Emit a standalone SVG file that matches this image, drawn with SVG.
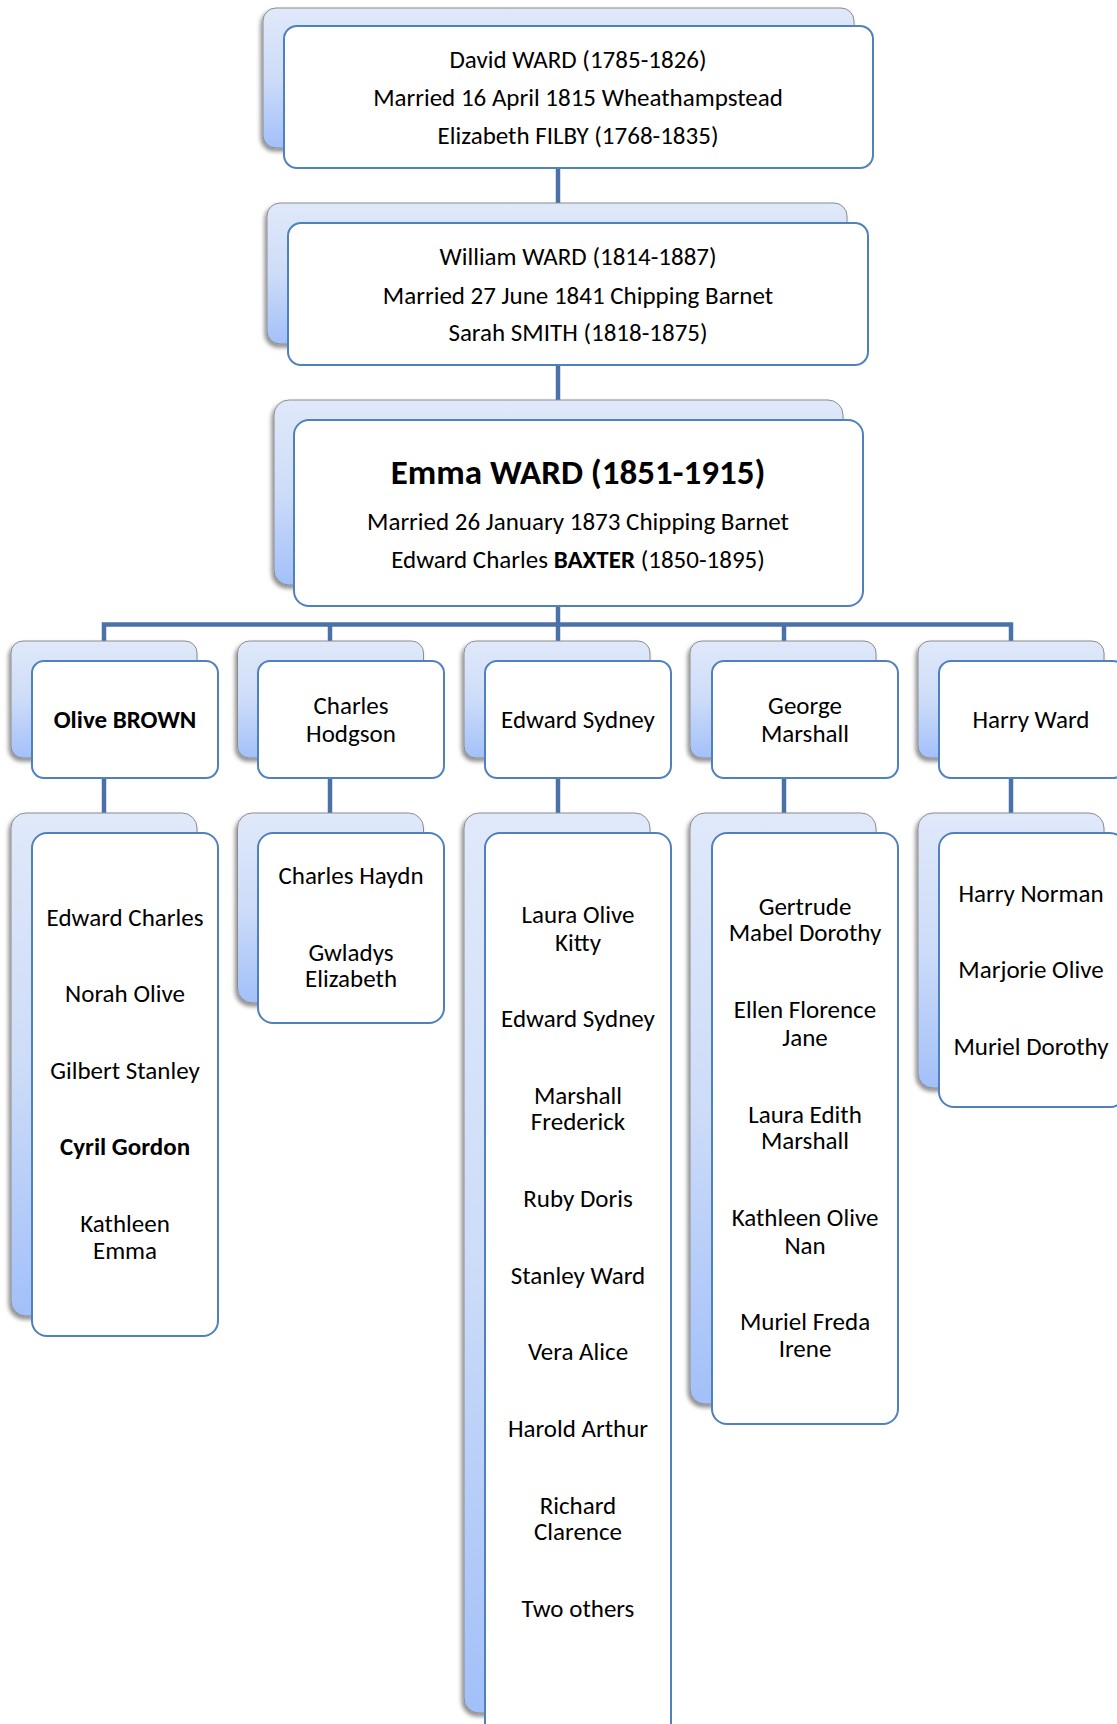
<svg xmlns="http://www.w3.org/2000/svg" width="1117" height="1724" viewBox="0 0 1117 1724">
<defs>
<linearGradient id="bg" x1="0" y1="0" x2="0" y2="1">
<stop offset="0" stop-color="#e0e9fa"/>
<stop offset="0.5" stop-color="#cddcf8"/>
<stop offset="1" stop-color="#a2c0f9"/>
</linearGradient>
<filter id="sh" x="-10%" y="-10%" width="120%" height="120%">
<feDropShadow dx="-2" dy="3" stdDeviation="2" flood-color="#000" flood-opacity="0.45"/>
</filter>
</defs>
<style>
.back{fill:url(#bg);stroke:#8c8c8c;stroke-width:1;filter:url(#sh)}
.front{fill:#fff;stroke:#4f81bd;stroke-width:2}
text{font-family:Carlito,Lato,"Liberation Sans",sans-serif;font-size:25px;fill:#000;text-anchor:middle}
.b{font-weight:bold}
.big{font-size:35px;font-weight:bold}
.con{stroke:#4a72a8;stroke-width:4.5;fill:none}
</style>
<rect width="1117" height="1724" fill="#fff"/>
<g id="connectors">
<line class="con" x1="558" y1="168" x2="558" y2="203"/>
<line class="con" x1="558" y1="365" x2="558" y2="400"/>
<line class="con" x1="558" y1="605" x2="558" y2="641"/>
<polyline class="con" points="104,641 104,624.5 1011,624.5 1011,641"/>
<line class="con" x1="330" y1="624.5" x2="330" y2="641"/>
<line class="con" x1="784" y1="624.5" x2="784" y2="641"/>
<line class="con" x1="104" y1="778" x2="104" y2="813"/>
<line class="con" x1="330" y1="778" x2="330" y2="813"/>
<line class="con" x1="558" y1="778" x2="558" y2="813"/>
<line class="con" x1="784" y1="778" x2="784" y2="813"/>
<line class="con" x1="1011" y1="778" x2="1011" y2="813"/>
</g>
<g id="n-david">
<rect class="back" x="263" y="8" width="591" height="140" rx="13"/>
<rect class="front" x="284" y="26" width="589" height="142" rx="13"/>
<text x="578" y="68">David WARD (1785-1826)</text>
<text x="578" y="106">Married 16 April 1815 Wheathampstead</text>
<text x="578" y="144">Elizabeth FILBY (1768-1835)</text>
</g>
<g id="n-william">
<rect class="back" x="267" y="203" width="580" height="141" rx="13"/>
<rect class="front" x="288" y="223" width="580" height="142" rx="13"/>
<text x="578" y="265">William WARD (1814-1887)</text>
<text x="578" y="304">Married 27 June 1841 Chipping Barnet</text>
<text x="578" y="341">Sarah SMITH (1818-1875)</text>
</g>
<g id="n-emma">
<rect class="back" x="274" y="400" width="569" height="185" rx="15"/>
<rect class="front" x="294" y="420" width="569" height="186" rx="15"/>
<text class="big" x="578" y="484">Emma WARD (1851-1915)</text>
<text x="578" y="530">Married 26 January 1873 Chipping Barnet</text>
<text x="578" y="568">Edward Charles <tspan class="b">BAXTER</tspan> (1850-1895)</text>
</g>
<g id="n-olive">
<rect class="back" x="11" y="641" width="186" height="117" rx="12"/>
<rect class="front" x="32" y="661" width="186" height="117" rx="12"/>
<text class="b" x="125" y="728">Olive BROWN</text>
</g>
<g id="n-charles">
<rect class="back" x="237.5" y="641" width="186" height="117" rx="12"/>
<rect class="front" x="258" y="661" width="186" height="117" rx="12"/>
<text x="351" y="714">Charles</text>
<text x="351" y="742">Hodgson</text>
</g>
<g id="n-edward">
<rect class="back" x="464" y="641" width="186" height="117" rx="12"/>
<rect class="front" x="485" y="661" width="186" height="117" rx="12"/>
<text x="578" y="728">Edward Sydney</text>
</g>
<g id="n-george">
<rect class="back" x="690" y="641" width="186" height="117" rx="12"/>
<rect class="front" x="712" y="661" width="186" height="117" rx="12"/>
<text x="805" y="714">George</text>
<text x="805" y="742">Marshall</text>
</g>
<g id="n-harry">
<rect class="back" x="918" y="641" width="186" height="117" rx="12"/>
<rect class="front" x="939" y="661" width="186" height="117" rx="12"/>
<text x="1031" y="728">Harry Ward</text>
</g>
<g id="c-olive">
<rect class="back" x="11" y="813" width="186" height="503" rx="15"/>
<rect class="front" x="32" y="833" width="186" height="503" rx="15"/>
<text x="125" y="926">Edward Charles</text>
<text x="125" y="1002">Norah Olive</text>
<text x="125" y="1079">Gilbert Stanley</text>
<text class="b" x="125" y="1155">Cyril Gordon</text>
<text x="125" y="1232">Kathleen</text>
<text x="125" y="1259">Emma</text>
</g>
<g id="c-charles">
<rect class="back" x="237.5" y="813" width="186" height="190" rx="15"/>
<rect class="front" x="258" y="833" width="186" height="190" rx="15"/>
<text x="351" y="884">Charles Haydn</text>
<text x="351" y="961">Gwladys</text>
<text x="351" y="987">Elizabeth</text>
</g>
<g id="c-edward">
<rect class="back" x="464" y="813" width="186" height="900" rx="15"/>
<rect class="front" x="485" y="833" width="186" height="905" rx="15"/>
<text x="578" y="923">Laura Olive</text>
<text x="578" y="951">Kitty</text>
<text x="578" y="1027">Edward Sydney</text>
<text x="578" y="1104">Marshall</text>
<text x="578" y="1130">Frederick</text>
<text x="578" y="1207">Ruby Doris</text>
<text x="578" y="1284">Stanley Ward</text>
<text x="578" y="1360">Vera Alice</text>
<text x="578" y="1437">Harold Arthur</text>
<text x="578" y="1514">Richard</text>
<text x="578" y="1540">Clarence</text>
<text x="578" y="1617">Two others</text>
</g>
<g id="c-george">
<rect class="back" x="690" y="813" width="186" height="591" rx="15"/>
<rect class="front" x="712" y="833" width="186" height="591" rx="15"/>
<text x="805" y="915">Gertrude</text>
<text x="805" y="941">Mabel Dorothy</text>
<text x="805" y="1018">Ellen Florence</text>
<text x="805" y="1046">Jane</text>
<text x="805" y="1123">Laura Edith</text>
<text x="805" y="1149">Marshall</text>
<text x="805" y="1226">Kathleen Olive</text>
<text x="805" y="1254">Nan</text>
<text x="805" y="1330">Muriel Freda</text>
<text x="805" y="1357">Irene</text>
</g>
<g id="c-harry">
<rect class="back" x="918" y="813" width="186" height="275" rx="15"/>
<rect class="front" x="939" y="833" width="186" height="274" rx="15"/>
<text x="1031" y="902">Harry Norman</text>
<text x="1031" y="978">Marjorie Olive</text>
<text x="1031" y="1055">Muriel Dorothy</text>
</g>
</svg>
